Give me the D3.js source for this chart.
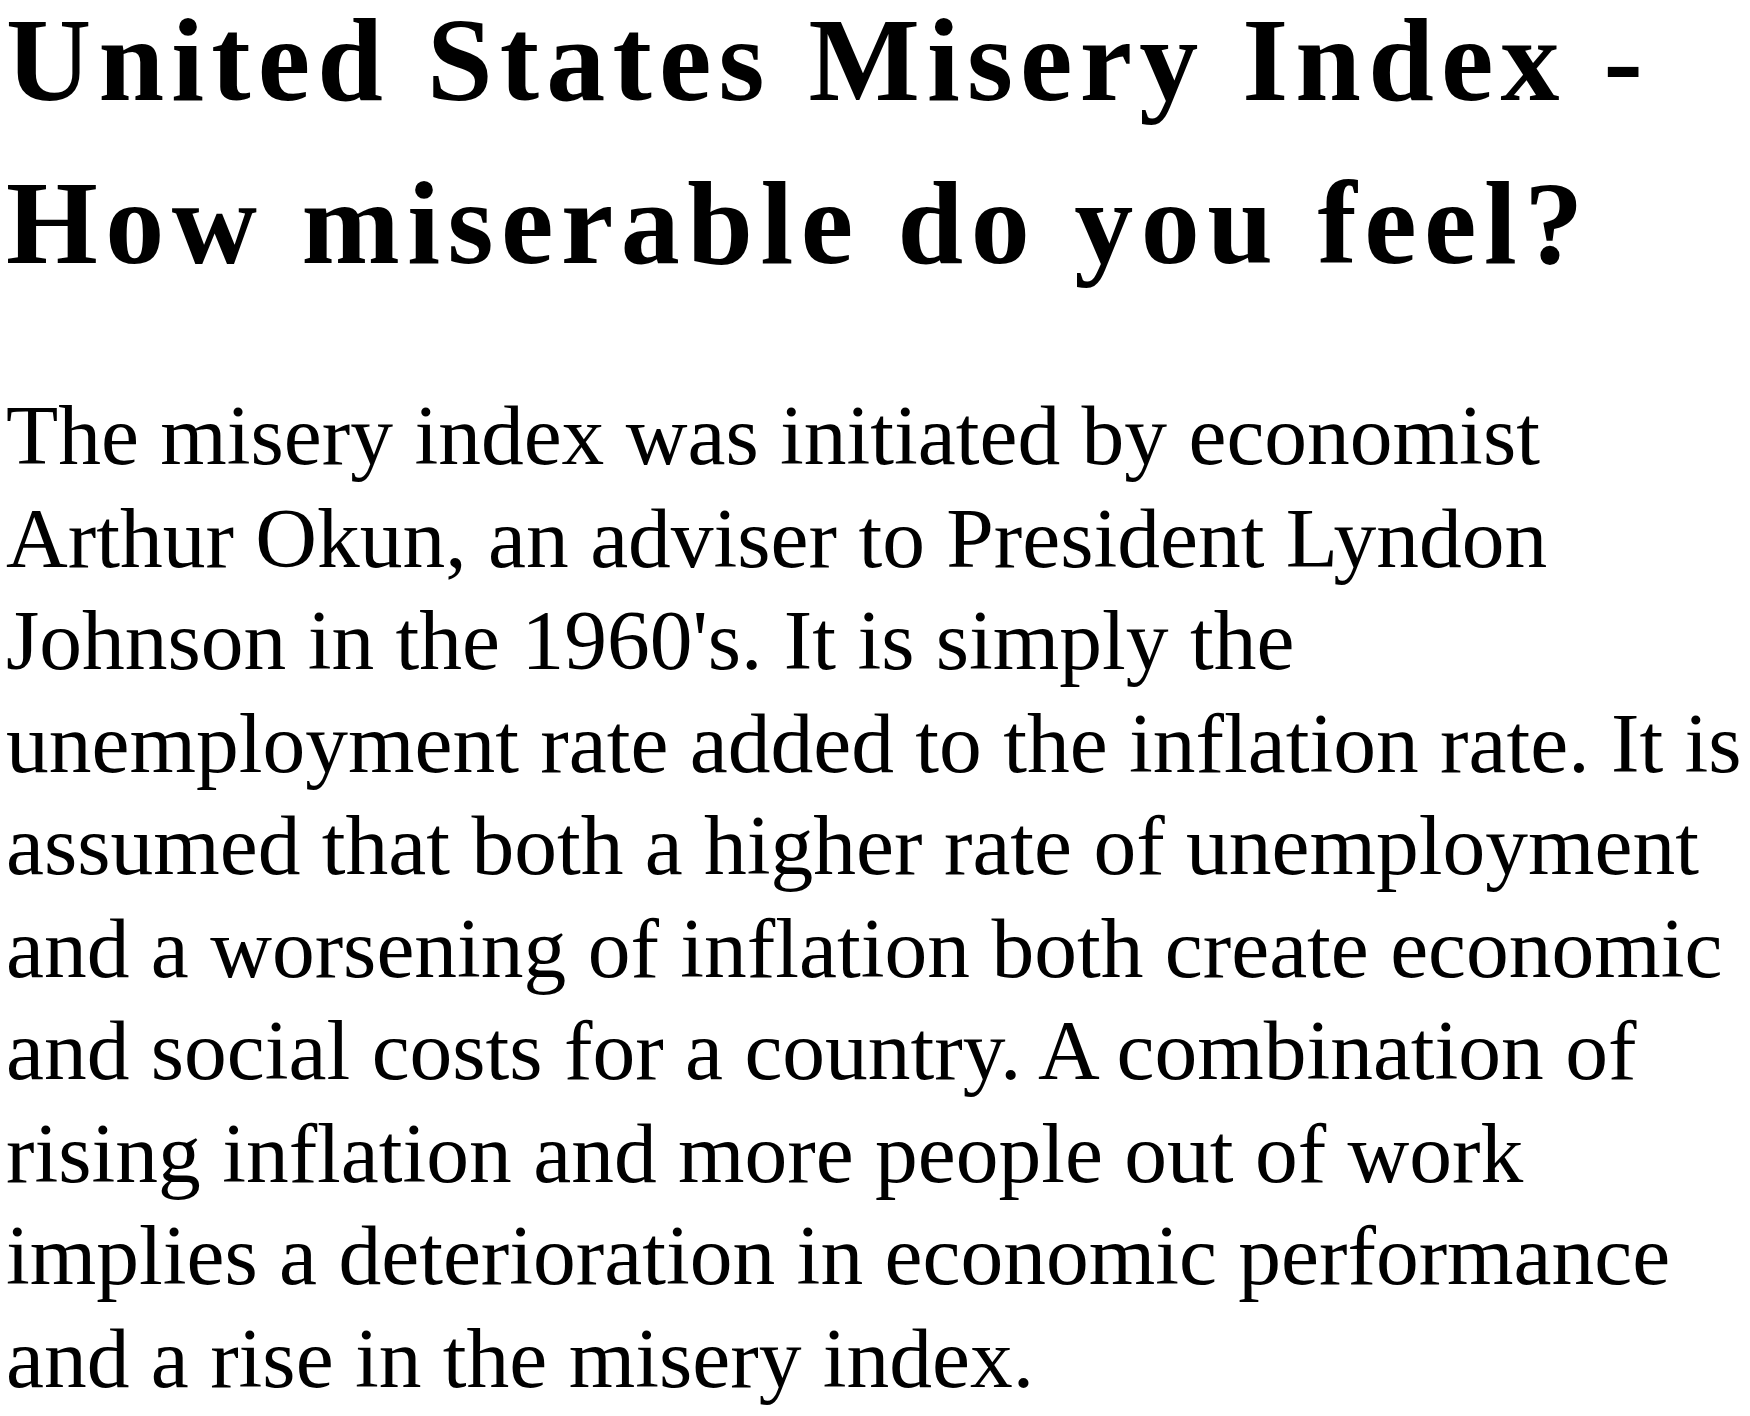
<!DOCTYPE html>
<html><head><meta charset="utf-8">
<script src="https://cdn.jsdelivr.net/npm/d3@7"></script>
<style>body{margin:0;background:#fff}</style></head>
<body><svg id="c" width="1750" height="1416"></svg>
<script>
const titleLines = ["United States Misery Index -", "How miserable do you feel?"];
const bodyLines = [
"The misery index was initiated by economist",
"Arthur Okun, an adviser to President Lyndon",
"Johnson in the 1960's. It is simply the",
"unemployment rate added to the inflation rate. It is",
"assumed that both a higher rate of unemployment",
"and a worsening of inflation both create economic",
"and social costs for a country. A combination of",
"rising inflation and more people out of work",
"implies a deterioration in economic performance",
"and a rise in the misery index."];
const svg = d3.select("#c");
const yT = d3.scaleLinear().domain([0,1]).range([100,263]);
const yB = d3.scaleLinear().domain([0,1]).range([464,566.5]);
svg.selectAll("text.t").data(titleLines).join("text").attr("class","t")
  .attr("x",6).attr("y",(d,i)=>yT(i)).text(d=>d)
  .attr("font-family","Liberation Serif").attr("font-weight","bold").attr("font-size",118).attr("fill","#000")
  .each(function(){ const w=this.getComputedTextLength(); d3.select(this).attr("textLength", w*1.135).attr("lengthAdjust","spacing"); });
svg.selectAll("text.b").data(bodyLines).join("text").attr("class","b")
  .attr("x",6).attr("y",(d,i)=>yB(i)).text(d=>d)
  .attr("font-family","Liberation Serif").attr("font-size",85.5).attr("fill","#000");
</script></body></html>
